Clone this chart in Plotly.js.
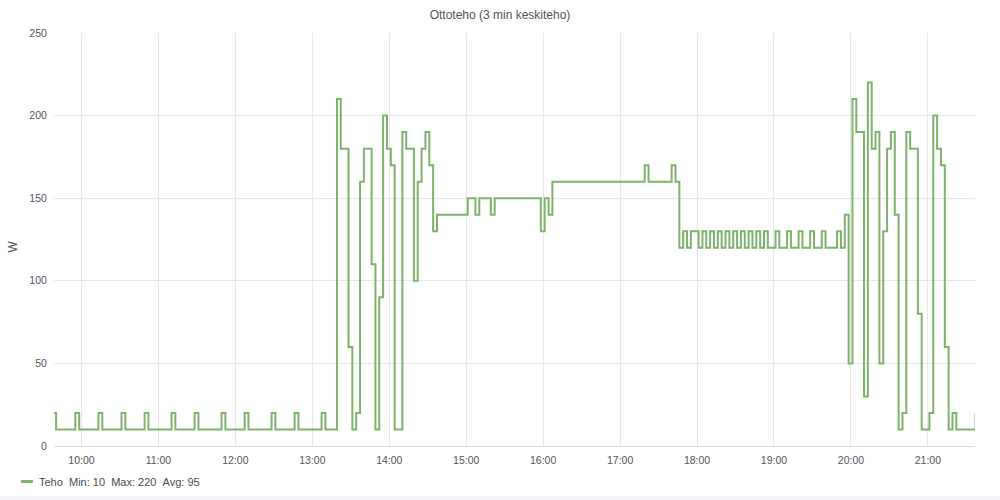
<!DOCTYPE html>
<html>
<head>
<meta charset="utf-8">
<script src="https://cdn.plot.ly/plotly-3.0.1.min.js"></script>
<style>
  html, body { margin: 0; padding: 0; background: #f3f4f7; }
  #chart { width: 1000px; height: 496px; background: #ffffff; }
</style>
</head>
<body>
<div id="chart"></div>
<script>
// ---- Data (3-minute average power, W) ----
const firstSample = '2020-01-01 09:37:12';   // time of first 3-min bucket
const stepMinutes = 3;

// 09:37 – 13:15 : standby with periodic small bumps
const wattsMorning = [
  20,10,10,10,10,10,20,10,10,10,10,10,20,10,10,10,10,10,20,10,10,10,10,10,
  20,10,10,10,10,10,10,20,10,10,10,10,10,20,10,10,10,10,10,10,20,10,10,10,
  10,10,20,10,10,10,10,10,10,20,10,10,10,10,10,20,10,10,10,10,10,10,20,10,
  10,10
];
// 13:15 – 14:30 : irregular load
const wattsNoon = [
  210,180,180,60,10,20,160,180,180,110,10,90,200,180,170,10,10,190,180,180,
  100,160,180,190,170
];
// 14:30 – 17:45 : steady load
const wattsAfternoon = [
  130,140,140,140,140,140,140,140,140,150,150,140,150,150,150,140,
  150,150,150,150,150,150,150,150,150,150,150,150,130,150,140,
  160,160,160,160,160,160,160,160,160,160,160,160,160,160,160,160,160,160,
  160,160,160,160,160,160,170,160,160,160,160,160,160,170,160
];
// 17:45 – 20:00 : cycling 120/130
const wattsEvening = [
  120,
  130,120,130,130,120,130,120,130,120,130,120,130,120,130,120,130,120,130,120,130,120,
  130,120,120,130,120,120,130,120,120,130,120,120,130,120,120,130,120,120,120,130,120,
  140
];
// 20:00 – 21:37 : irregular load, then standby
const wattsNight = [
  50,210,190,190,30,220,180,190,50,130,180,190,140,10,20,190,180,180,80,
  10,10,20,200,180,170,60,10,20,10,10,10,10,10,20
];

// Legend statistics as shown
const statMin = 10, statMax = 220, statAvg = 95;
const seriesName = 'Teho';

// ---- Build series ----
const watts = [].concat(wattsMorning, wattsNoon, wattsAfternoon, wattsEvening, wattsNight);
function pad(n) { return (n < 10 ? '0' : '') + n; }
function fmt(d) {
  return d.getUTCFullYear() + '-' + pad(d.getUTCMonth() + 1) + '-' + pad(d.getUTCDate()) + ' ' +
         pad(d.getUTCHours()) + ':' + pad(d.getUTCMinutes()) + ':' + pad(d.getUTCSeconds());
}
const start = new Date(firstSample.replace(' ', 'T') + 'Z');
const times = watts.map((_, i) => fmt(new Date(start.getTime() + i * stepMinutes * 60000)));

const FONT = '"Liberation Sans", Arial, sans-serif';
const TXT = '#52545c';
const GRID = '#e7e7e7';
const GREEN = '#7eb26d';

const trace = {
  x: times,
  y: watts,
  type: 'scatter',
  mode: 'lines',
  line: { color: GREEN, width: 2, shape: 'hv' },
  name: seriesName,
  hoverinfo: 'skip',
  showlegend: false
};

const nb = '\u00a0';
const legendText = seriesName + nb + nb + 'Min:' + nb + statMin + nb + nb + 'Max:' + nb + statMax + nb + nb + 'Avg:' + nb + statAvg;

const layout = {
  width: 1000,
  height: 496,
  margin: { l: 54, r: 25, t: 33, b: 50 },
  paper_bgcolor: '#ffffff',
  plot_bgcolor: '#ffffff',
  font: { family: FONT, size: 11, color: TXT },
  title: {
    text: 'Ottoteho (3 min keskiteho)',
    x: 0.5, xref: 'container', xanchor: 'center',
    y: 1 - 15 / 496, yref: 'container', yanchor: 'middle',
    font: { family: FONT, size: 12, color: TXT }
  },
  xaxis: {
    type: 'date',
    range: ['2020-01-01 09:38:33', '2020-01-01 21:36:45'],
    tickformat: '%H:%M',
    dtick: 3600000,
    tick0: '2020-01-01 00:00:00',
    showgrid: true, gridcolor: GRID, gridwidth: 1,
    showline: true, linecolor: '#dcdcdc', linewidth: 1,
    zeroline: false,
    ticks: 'outside', ticklen: 4, tickcolor: 'rgba(0,0,0,0)',
    tickfont: { family: FONT, size: 10.5, color: TXT },
    fixedrange: true
  },
  yaxis: {
    range: [0, 250],
    dtick: 50,
    showgrid: true, gridcolor: GRID, gridwidth: 1,
    zeroline: false, showline: false,
    ticks: 'outside', ticklen: 4, tickcolor: 'rgba(0,0,0,0)',
    tickfont: { family: FONT, size: 10.5, color: TXT },
    fixedrange: true
  },
  shapes: [{
    type: 'rect', xref: 'paper', yref: 'paper',
    xsizemode: 'pixel', ysizemode: 'pixel',
    xanchor: 0, yanchor: 0,
    x0: -33, x1: -21, y0: -37, y1: -34,
    fillcolor: GREEN, line: { width: 0 }
  }],
  annotations: [
    {
      text: legendText, xref: 'paper', yref: 'paper', x: 0, y: 0,
      xanchor: 'left', yanchor: 'middle', xshift: -17, yshift: -35.5,
      showarrow: false, font: { family: FONT, size: 11, color: '#464c54' }
    },
    {
      text: 'W', xref: 'paper', yref: 'paper', x: 0, y: 0.5,
      xanchor: 'center', yanchor: 'middle', xshift: -42, yshift: -7,
      textangle: -90, showarrow: false, font: { family: FONT, size: 12, color: TXT }
    }
  ]
};

Plotly.newPlot('chart', [trace], layout, { staticPlot: true, displayModeBar: false });
</script>
</body>
</html>
